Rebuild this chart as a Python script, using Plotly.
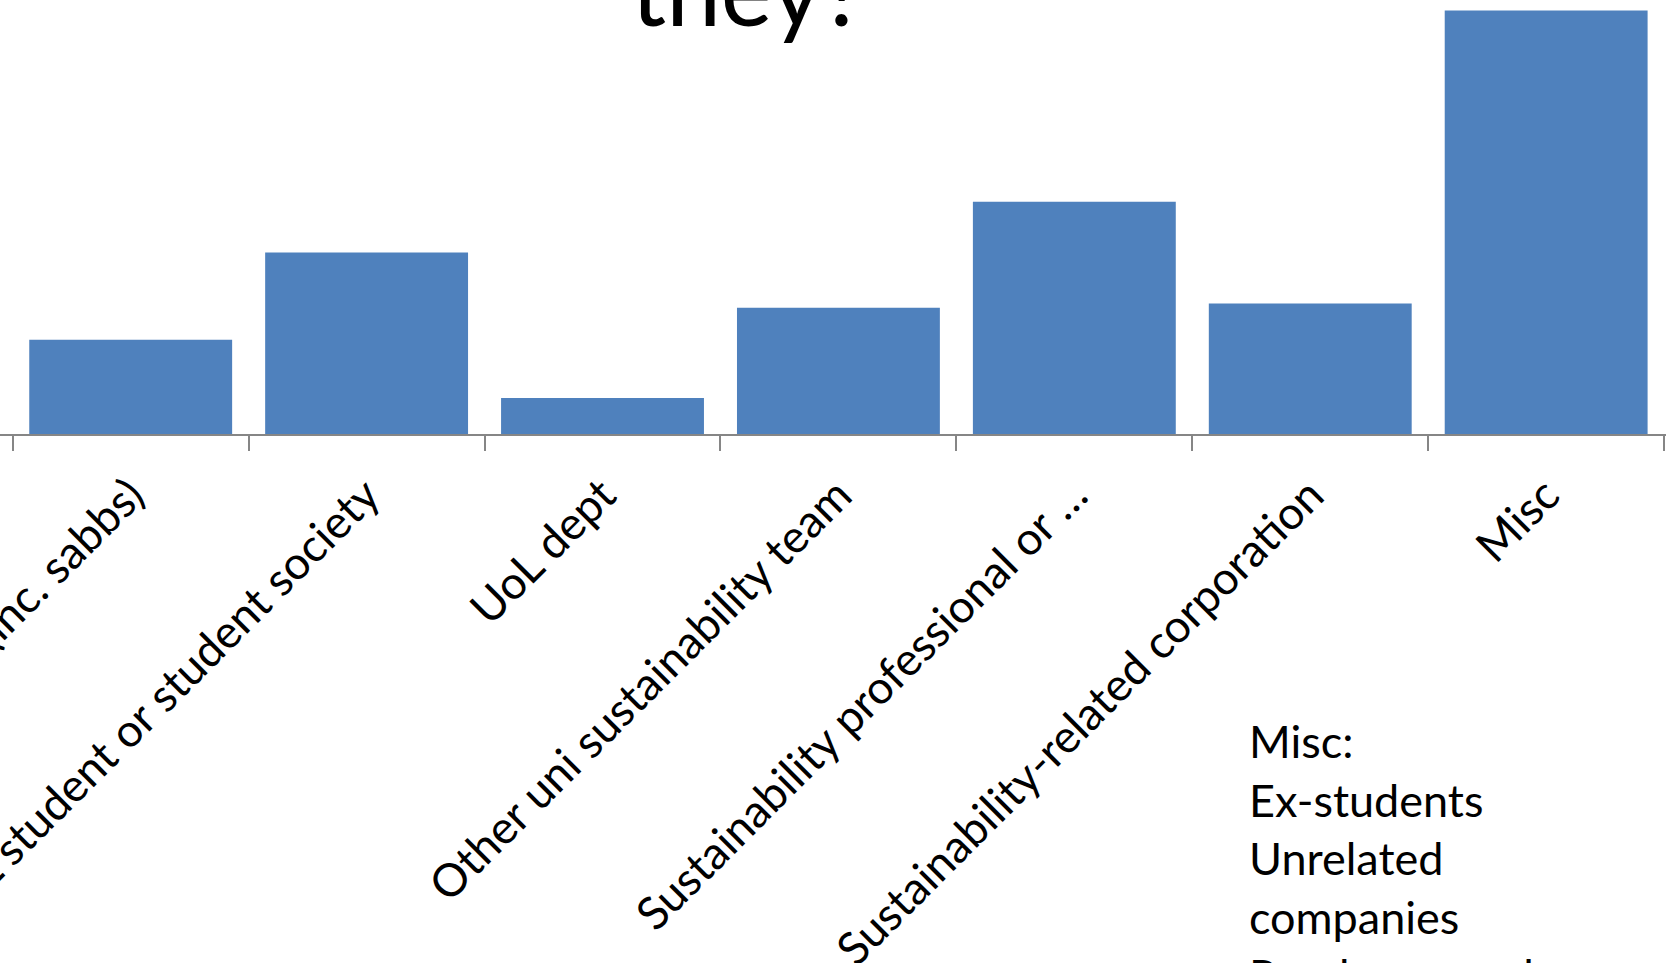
import plotly.graph_objects as go

categories = [
    "Guild (inc. sabbs)",
    "UoL student or student society",
    "UoL dept",
    "Other uni sustainability team",
    "Sustainability professional or …",
    "Sustainability-related corporation",
    "Misc",
]
values = [13, 25, 5, 17.4, 32, 18, 58.3]

title_text = "they?"
misc_lines = ["Misc:", "Ex-students", "Unrelated", "companies", "Random people"]

W, H = 1666, 963
FONT = "Lato"

fig = go.Figure(
    go.Bar(
        x=categories,
        y=values,
        marker=dict(color="#4F81BD", line=dict(width=0)),
        hoverinfo="skip",
    )
)

fig.update_layout(
    width=W,
    height=H,
    margin=dict(l=0, r=0, t=0, b=0, pad=0),
    paper_bgcolor="white",
    plot_bgcolor="white",
    showlegend=False,
    bargap=0.14,
    font=dict(family=FONT, color="black"),
)

fig.update_xaxes(
    type="category",
    range=[-0.554, 6.508],
    showline=True,
    linecolor="#868686",
    linewidth=2,
    ticks="outside",
    ticklen=15,
    tickwidth=2,
    tickcolor="#868686",
    tickson="boundaries",
    tickangle=-45,
    tickfont=dict(family=FONT, size=45.5, color="black"),
    ticklabelstandoff=14,
    showgrid=False,
    automargin=False,
    fixedrange=True,
)

fig.update_yaxes(
    domain=[1 - 434.3 / H, 1],
    range=[0, 59.74],
    visible=False,
    showgrid=False,
    automargin=False,
    fixedrange=True,
)

fig.add_annotation(
    text=title_text,
    xref="paper", yref="paper",
    x=748 / W, y=1 + 12 / H,
    xanchor="center", yanchor="middle",
    showarrow=False,
    font=dict(family=FONT, size=98, color="black"),
)

fig.add_annotation(
    text="<br>".join(misc_lines),
    xref="paper", yref="paper",
    x=1247 / W, y=1 - 712 / H,
    xanchor="left", yanchor="top",
    align="left",
    showarrow=False,
    font=dict(family=FONT, size=45, color="black"),
)

fig.write_html("out.html", config=dict(displayModeBar=False))
